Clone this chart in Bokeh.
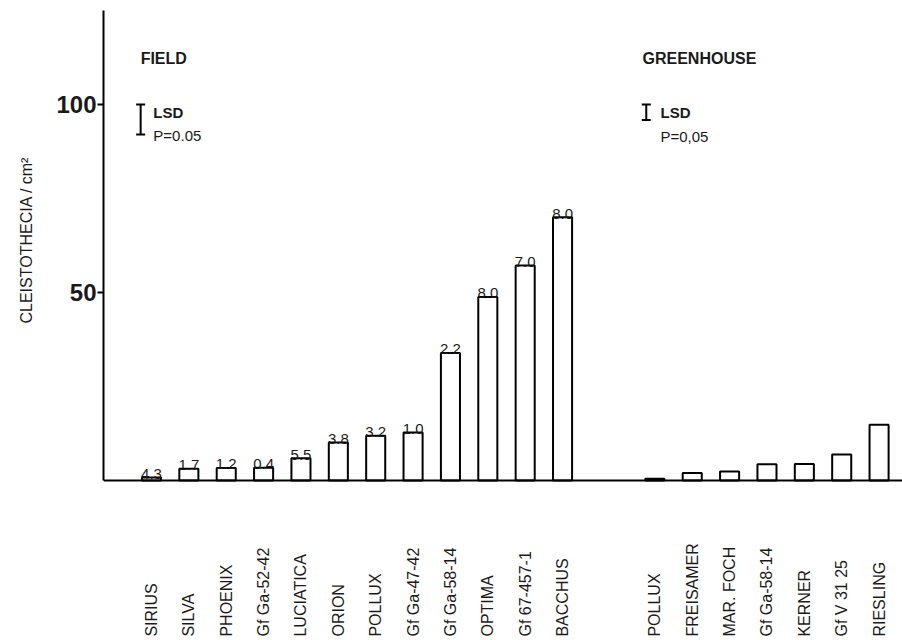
import numpy as np
from bokeh.plotting import figure
from bokeh.models import Range1d, FixedTicker, Span, ColumnDataSource, Whisker, TeeHead, Title
from bokeh.core.properties import value
from bokeh.embed import file_html
from bokeh.resources import INLINE

# ---- data ----
field_names = ["SIRIUS", "SILVA", "PHOENIX", "Gf Ga-52-42", "LUCIATICA", "ORION",
               "POLLUX", "Gf Ga-47-42", "Gf Ga-58-14", "OPTIMA", "Gf 67-457-1", "BACCHUS"]
field_values = [0.8, 3.1, 3.3, 3.4, 5.9, 10.1, 11.9, 12.8, 33.9, 48.8, 57.2, 70.0]
field_annot = ["4.3", "1.7", "1.2", "0.4", "5.5", "3.8", "3.2", "1.0", "2.2", "8.0", "7.0", "8.0"]

gh_names = ["POLLUX", "FREISAMER", "MAR. FOCH", "Gf Ga-58-14", "KERNER", "Gf V 31 25", "RIESLING"]
gh_values = [0.5, 2.0, 2.4, 4.3, 4.4, 6.9, 14.8]

lsd_values = [8.0, 4.1]          # field, greenhouse
lsd_top = 100
y_ticks = [50, 100]

FONT = value("Liberation Sans")
INK = "#1a1a1a"

# positions (category slots)
field_x = np.arange(len(field_names), dtype=float)
gh_x = 13.47 + np.arange(len(gh_names), dtype=float)

x_start = -1.284
x_end = x_start + 799 / 37.37
y_low, y_high = -42.55, 125

p = figure(width=902, height=640, output_backend="svg", toolbar_location=None,
           x_range=Range1d(x_start, x_end), y_range=Range1d(y_low, y_high),
           x_axis_location=None,
           min_border_left=103, min_border_right=0, min_border_top=10, min_border_bottom=0)
p.outline_line_color = None
p.grid.visible = False
p.background_fill_color = "white"
p.border_fill_color = "white"

# y axis
ya = p.yaxis[0]
ya.ticker = FixedTicker(ticks=y_ticks)
ya.bounds = (0, y_high)
ya.axis_line_width = 2
ya.axis_line_color = "black"
ya.major_tick_in = 0
ya.major_tick_out = 6
ya.major_tick_line_width = 2
ya.minor_tick_line_color = None
ya.major_label_text_font = "Liberation Sans"
ya.major_label_text_font_size = "24px"
ya.major_label_text_font_style = "bold"
ya.major_label_text_color = INK
ya.major_label_standoff = 1

# y axis title, beside the 0-100 span
p.add_layout(Title(text="CLEISTOTHECIA / cm²", align="left", offset=317, standoff=34,
                   vertical_align="top",
                   text_font="Liberation Sans", text_font_size="16px",
                   text_font_style="normal", text_color=INK), "left")

# baseline
p.add_layout(Span(location=0, dimension="width", line_color="black", line_width=2))

# bars
bw = 0.51
p.vbar(x=field_x, top=field_values, bottom=0, width=bw, fill_color="white",
       line_color="black", line_width=2)
p.vbar(x=gh_x, top=gh_values, bottom=0, width=bw, fill_color="white",
       line_color="black", line_width=2)

# value annotations above field bars
annot_y = [v + 1.0 for v in field_values]
p.text(x=field_x, y=annot_y, text=field_annot, text_font=FONT,
       text_font_size="15px", text_align="center", text_baseline="alphabetic",
       text_color=INK)

# category labels (vertical)
label_y = -41.5
p.text(x=field_x, y=[label_y] * len(field_x), text=field_names, text_font=FONT,
       text_font_size="16px", angle=np.pi / 2, text_align="left",
       text_baseline="middle", text_color=INK)
p.text(x=gh_x, y=[label_y] * len(gh_x), text=gh_names, text_font=FONT,
       text_font_size="16px", angle=np.pi / 2, text_align="left",
       text_baseline="middle", text_color=INK)

# LSD whiskers
lsd_x = [-0.29, 13.24]
src = ColumnDataSource(dict(base=lsd_x, upper=[lsd_top] * 2,
                            lower=[lsd_top - v for v in lsd_values]))
p.add_layout(Whisker(base="base", upper="upper", lower="lower", dimension="height",
                     source=src, line_width=2, line_color="black",
                     upper_head=TeeHead(size=9, line_width=2, line_color="black"),
                     lower_head=TeeHead(size=9, line_width=2, line_color="black")))

# panel headings and LSD legends
p.text(x=[-0.29, 13.14], y=[112.2, 112.2], text=["FIELD", "GREENHOUSE"], text_font=FONT,
       text_font_size="16px", text_font_style="bold", text_align="left",
       text_baseline="middle", text_color=INK)
p.text(x=[0.05, 13.62], y=[97.9, 97.9], text=["LSD", "LSD"], text_font=FONT,
       text_font_size="15px", text_font_style="bold", text_align="left",
       text_baseline="middle", text_color=INK)
p.text(x=[0.05, 13.62], y=[91.8, 91.6], text=["P=0.05", "P=0,05"], text_font=FONT,
       text_font_size="15px", text_align="left", text_baseline="middle",
       text_color=INK)

open("out.html", "w").write(file_html(p, INLINE))
